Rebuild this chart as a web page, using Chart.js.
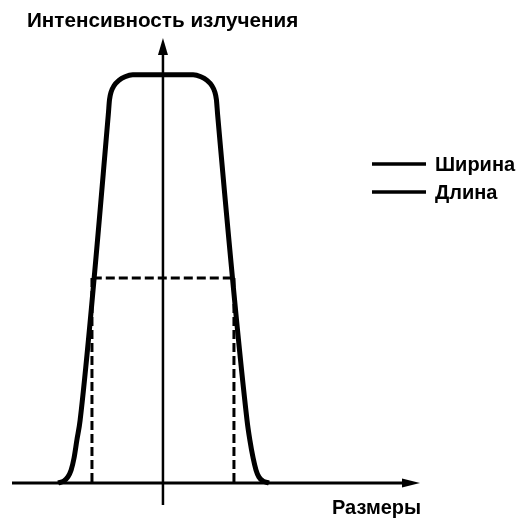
<!DOCTYPE html>
<html>
<head>
<meta charset="utf-8">
<script src="https://cdn.jsdelivr.net/npm/chart.js@4/dist/chart.umd.min.js"></script>
<style>
    html, body { margin: 0; padding: 0; background: #fff; }
    #wrap { width: 518px; height: 523px; position: relative; }
</style>
</head>
<body>
<div id="wrap"><canvas id="profileChart"></canvas></div>
<script>
// Profile of the emission (same units on both axes)
const profileX = [-25.7, -24.3, -23.3, -22.5, -21.8, -21.1, -20.3, -13.4, -13.1, -12.7, -12.0, -10.8, -9.3, -7.4,
    7.4, 9.3, 10.8, 12.0, 12.7, 13.1, 13.4, 20.6, 21.3, 22.1, 22.8, 23.5, 24.5, 26.0];
const profileY = [0, 0.5, 1.5, 3.2, 6.1, 10.5, 15.4, 90.2, 93.9, 95.8, 97.3, 98.6, 99.5, 100,
    100, 99.5, 98.6, 97.3, 95.8, 93.9, 90.2, 15.4, 10.5, 6.1, 3.2, 1.5, 0.5, 0];

// Dashed level line and the two size markers
const levelX = [-17.2, 17.2];
const levelY = [50.2, 50.2];
const leftMarkX = [-17.4, -17.4];
const rightMarkX = [17.4, 17.4];
const markY = [50.2, 0];

const legendLabels = ['Ширина', 'Длина'];
const yTitle = 'Интенсивность излучения';
const xTitle = 'Размеры';

const toPoints = (xs, ys) => xs.map((x, i) => ({ x, y: ys[i] }));

const FONT = 'bold 20px "Liberation Sans", Arial, sans-serif';
const TITLE_FONT = 'bold 20.7px "Liberation Sans", Arial, sans-serif';

// Axes with arrows, titles and legend
const decorations = {
    id: 'decorations',
    beforeDatasetsDraw(chart) {
        const { ctx, scales: { x, y } } = chart;
        const x0 = x.getPixelForValue(0);
        const y0 = y.getPixelForValue(0);
        const left = x.getPixelForValue(x.min);
        const right = x.getPixelForValue(x.max);
        const top = y.getPixelForValue(y.max);
        const below = y.getPixelForValue(-5.4);
        ctx.save();
        ctx.strokeStyle = '#000';
        ctx.fillStyle = '#000';

        // horizontal axis
        ctx.lineWidth = 3;
        ctx.beginPath();
        ctx.moveTo(left, y0);
        ctx.lineTo(right - 10, y0);
        ctx.stroke();
        ctx.beginPath();
        ctx.moveTo(right, y0);
        ctx.lineTo(right - 18, y0 - 4.5);
        ctx.lineTo(right - 18, y0 + 4.5);
        ctx.closePath();
        ctx.fill();

        // vertical axis
        ctx.lineWidth = 2.5;
        ctx.beginPath();
        ctx.moveTo(x0, below);
        ctx.lineTo(x0, top + 10);
        ctx.stroke();
        ctx.beginPath();
        ctx.moveTo(x0, top);
        ctx.lineTo(x0 - 5, top + 17);
        ctx.lineTo(x0 + 5, top + 17);
        ctx.closePath();
        ctx.fill();
        ctx.restore();
    },
    afterDraw(chart) {
        const { ctx } = chart;
        ctx.save();
        ctx.fillStyle = '#000';
        ctx.strokeStyle = '#000';
        ctx.textBaseline = 'alphabetic';
        ctx.textAlign = 'left';
        ctx.font = TITLE_FONT;
        ctx.fillText(yTitle, 27, 27);
        ctx.font = FONT;
        ctx.fillText(xTitle, 332, 514);

        // legend
        ctx.lineWidth = 3.5;
        legendLabels.forEach((label, i) => {
            const ly = 164 + i * 28;
            ctx.beginPath();
            ctx.moveTo(372, ly);
            ctx.lineTo(426, ly);
            ctx.stroke();
            ctx.fillText(label, 435, ly + 6.5);
        });
        ctx.restore();
    }
};

const ctx = document.getElementById('profileChart').getContext('2d');
new Chart(ctx, {
    type: 'line',
    data: {
        datasets: [
            {
                label: 'profile',
                data: toPoints(profileX, profileY),
                borderColor: '#000',
                borderWidth: 5,
                pointRadius: 0,
                cubicInterpolationMode: 'monotone',
                borderJoinStyle: 'round',
                clip: false
            },
            {
                label: 'level',
                data: toPoints(levelX, levelY),
                borderColor: '#000',
                borderWidth: 3,
                borderDash: [9, 4],
                pointRadius: 0,
                clip: false
            },
            {
                label: 'left',
                data: toPoints(leftMarkX, markY),
                borderColor: '#000',
                borderWidth: 3,
                borderDash: [9, 4],
                pointRadius: 0,
                clip: false
            },
            {
                label: 'right',
                data: toPoints(rightMarkX, markY),
                borderColor: '#000',
                borderWidth: 3,
                borderDash: [9, 4],
                pointRadius: 0,
                clip: false
            }
        ]
    },
    options: {
        responsive: true,
        maintainAspectRatio: false,
        animation: false,
        layout: {
            padding: { left: 12, right: 98, top: 38, bottom: 40 }
        },
        scales: {
            x: { type: 'linear', display: false, min: -37, max: 63 },
            y: { type: 'linear', display: false, min: 0, max: 109 }
        },
        plugins: {
            legend: { display: false },
            tooltip: { enabled: false }
        }
    },
    plugins: [decorations]
});
</script>
</body>
</html>
